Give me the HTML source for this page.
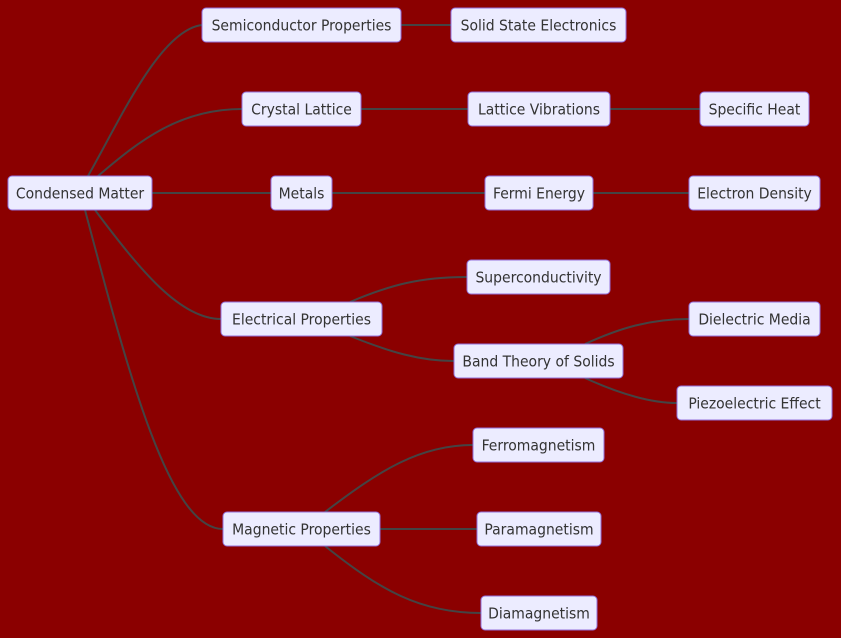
<!DOCTYPE html>
<html><head><meta charset="utf-8"><style>
html,body{margin:0;padding:0;background:#8b0000;}
svg{display:block;}
text{font-family:"DejaVu Sans Condensed","DejaVu Sans","Liberation Sans",sans-serif;font-stretch:condensed;font-size:15.5px;fill:#333;}
</style></head><body>
<svg width="841" height="638" viewBox="0 0 841 638" xmlns="http://www.w3.org/2000/svg">
<g fill="none" stroke="#444" stroke-width="2">
<path d="M88 176 C120 120,160 30,202 25"/>
<path d="M98 176 C140 140,180 109,242 109"/>
<path d="M152 193 L271 193"/>
<path d="M95 210 C140 270,180 319,221 319"/>
<path d="M85 210 C130 380,170 529,223 529"/>
<path d="M401 25 L451 25"/>
<path d="M361 109 L468 109"/>
<path d="M610 109 L700 109"/>
<path d="M332 193 L485 193"/>
<path d="M593 193 L689 193"/>
<path d="M350 302 C390 285,420 277,467 277"/>
<path d="M350 336 C390 352,420 361,454 361"/>
<path d="M585 344 C620 328,650 319,689 319"/>
<path d="M585 378 C620 394,650 403,677 403"/>
<path d="M325 512 C380 470,420 445,473 445"/>
<path d="M380 529 L477 529"/>
<path d="M325 546 C380 590,420 613,481 613"/>
</g>
<g fill="#ececff" stroke="#9370db" stroke-width="1">
<rect x="8" y="176" width="144" height="34" rx="4"/>
<rect x="202" y="8" width="199" height="34" rx="4"/>
<rect x="451" y="8" width="175" height="34" rx="4"/>
<rect x="242" y="92" width="119" height="34" rx="4"/>
<rect x="468" y="92" width="142" height="34" rx="4"/>
<rect x="700" y="92" width="109" height="34" rx="4"/>
<rect x="271" y="176" width="61" height="34" rx="4"/>
<rect x="485" y="176" width="108" height="34" rx="4"/>
<rect x="689" y="176" width="131" height="34" rx="4"/>
<rect x="221" y="302" width="161" height="34" rx="4"/>
<rect x="467" y="260" width="143" height="34" rx="4"/>
<rect x="454" y="344" width="169" height="34" rx="4"/>
<rect x="689" y="302" width="131" height="34" rx="4"/>
<rect x="677" y="386" width="155" height="34" rx="4"/>
<rect x="223" y="512" width="157" height="34" rx="4"/>
<rect x="473" y="428" width="131" height="34" rx="4"/>
<rect x="477" y="512" width="124" height="34" rx="4"/>
<rect x="481" y="596" width="116" height="34" rx="4"/>
</g>
<g text-anchor="middle">
<text x="80" y="198.5">Condensed Matter</text>
<text x="301.5" y="30.5">Semiconductor Properties</text>
<text x="538.5" y="30.5">Solid State Electronics</text>
<text x="301.5" y="114.5">Crystal Lattice</text>
<text x="539" y="114.5">Lattice Vibrations</text>
<text x="754.5" y="114.5">Specific Heat</text>
<text x="301.5" y="198.5">Metals</text>
<text x="539" y="198.5">Fermi Energy</text>
<text x="754.5" y="198.5">Electron Density</text>
<text x="301.5" y="324.5">Electrical Properties</text>
<text x="538.5" y="282.5">Superconductivity</text>
<text x="538.5" y="366.5">Band Theory of Solids</text>
<text x="754.5" y="324.5">Dielectric Media</text>
<text x="754.5" y="408.5">Piezoelectric Effect</text>
<text x="301.5" y="534.5">Magnetic Properties</text>
<text x="538.5" y="450.5">Ferromagnetism</text>
<text x="539" y="534.5">Paramagnetism</text>
<text x="539" y="618.5">Diamagnetism</text>
</g>
</svg>
</body></html>
